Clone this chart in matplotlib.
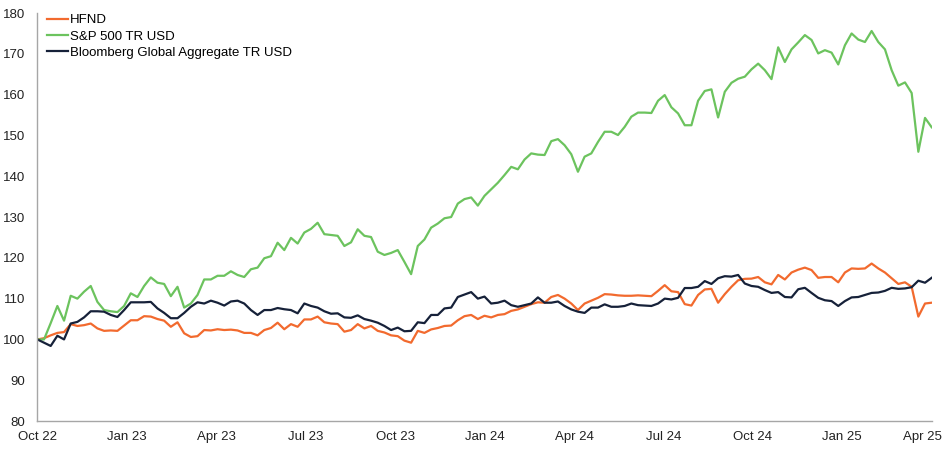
import numpy as np
import matplotlib
matplotlib.use("Agg")
import matplotlib.pyplot as plt
import matplotlib.transforms as mtrans

## Data (weekly, rebased to 100)
tick_labels = ['Oct 22', 'Jan 23', 'Apr 23', 'Jul 23', 'Oct 23', 'Jan 24',
               'Apr 24', 'Jul 24', 'Oct 24', 'Jan 25', 'Apr 25']

hfnd = [100, 100.3, 101.0, 101.6, 101.8, 103.75, 103.3, 103.5, 103.9, 102.7, 102.1, 102.2, 102.1, 103.4,
        104.7, 104.7, 105.7, 105.6, 105.0, 104.6, 103.1, 104.2, 101.5,
        100.6, 100.8, 102.3, 102.2, 102.5, 102.3, 102.4, 102.2, 101.6, 101.6, 101.0, 102.3, 102.8, 104.1,
        102.5, 103.75, 103.1, 104.9, 104.9, 105.6, 104.2, 103.9,
        103.75, 101.9, 102.3, 103.75, 102.7, 103.3, 102.1, 101.7, 101.0, 100.8, 99.7, 99.2, 102.1, 101.6,
        102.45, 102.8, 103.3, 103.4, 104.7, 105.7, 106.0, 105.0, 105.8,
        105.4, 106.0, 106.2, 107.0, 107.35, 108.0, 108.65, 109.1, 109.0, 110.4, 110.9, 110.0, 108.8, 107.2,
        108.8, 109.5, 110.2, 111.1, 111.0, 110.8, 110.7, 110.7, 110.8, 110.7,
        110.6, 111.9, 113.3, 111.8, 111.6, 108.65, 108.3, 110.9, 112.25, 112.4, 109.0, 111.1, 112.9, 114.5,
        114.85, 114.9, 115.3, 114.0, 113.5, 115.8, 114.7, 116.4, 117.1,
        117.6, 117.0, 115.1, 115.3, 115.3, 114.0, 116.4, 117.4, 117.3, 117.4, 118.6, 117.4, 116.4, 115.0,
        113.6, 114.0, 112.9, 105.6, 108.8, 109.0]

sp500 = [100, 100.0, 104.0, 108.2, 104.6, 110.7, 110.0, 111.7, 113.1, 109.2, 107.2, 106.9, 106.7, 108.2,
         111.3, 110.4, 113.1, 115.2, 113.9, 113.6, 110.6, 112.9, 107.8,
         108.8, 110.9, 114.7, 114.7, 115.6, 115.6, 116.7, 115.8, 115.3, 117.2, 117.6, 119.9, 120.4, 123.7,
         121.9, 124.9, 123.5, 126.2, 127.1, 128.6, 125.8, 125.6,
         125.4, 122.9, 123.8, 127.0, 125.4, 125.1, 121.5, 120.7, 121.2, 121.9, 119.0, 116.0, 122.9, 124.5,
         127.4, 128.4, 129.7, 130.0, 133.3, 134.4, 134.8, 132.8, 135.2,
         136.8, 138.4, 140.3, 142.3, 141.7, 144.1, 145.6, 145.3, 145.2, 148.6, 149.1, 147.6, 145.4, 141.1,
         144.8, 145.6, 148.4, 150.9, 150.9, 150.1, 152.1, 154.6, 155.6, 155.6,
         155.5, 158.5, 159.9, 156.9, 155.4, 152.5, 152.5, 158.5, 160.9, 161.3, 154.4, 160.7, 162.9, 163.9,
         164.4, 166.2, 167.6, 166.0, 163.8, 171.6, 168.0, 171.1, 172.8,
         174.6, 173.4, 170.1, 170.9, 170.3, 167.4, 172.1, 175.0, 173.5, 172.9, 175.6, 172.9, 171.1, 166.0,
         162.2, 163.0, 160.4, 146.0, 154.3, 152.0]

bbg_agg = [100, 99.2, 98.4, 100.9, 100.0, 103.9, 104.3, 105.4, 106.9, 106.9, 106.8, 106.0, 105.5, 107.2,
           109.1, 109.1, 109.1, 109.2, 107.6, 106.5, 105.2, 105.2, 106.5,
           108.0, 109.1, 108.8, 109.5, 109.0, 108.3, 109.3, 109.5, 108.8, 107.2, 106.0, 107.2, 107.2, 107.7,
           107.4, 107.2, 106.4, 108.8, 108.2, 107.8, 106.9, 106.3,
           106.4, 105.4, 105.3, 105.9, 105.0, 104.6, 104.1, 103.3, 102.3, 102.9, 102.0, 102.1, 104.2, 104.0,
           106.0, 106.0, 107.6, 107.8, 110.4, 111.0, 111.6, 110.0, 110.5,
           108.8, 109.0, 109.5, 108.4, 108.0, 108.4, 108.8, 110.3, 109.0, 109.0, 109.3, 108.2, 107.35, 106.8,
           106.5, 107.8, 107.8, 108.6, 108.0, 108.0, 108.2, 108.8, 108.4, 108.3,
           108.2, 108.8, 110.0, 109.8, 110.2, 112.6, 112.6, 112.9, 114.3, 113.6, 115.0, 115.5, 115.4, 115.8,
           113.7, 113.1, 112.9, 112.1, 111.4, 111.6, 110.4, 110.3, 112.3,
           112.65, 111.4, 110.2, 109.6, 109.4, 108.2, 109.4, 110.3, 110.4, 110.9, 111.4, 111.5, 111.9, 112.65,
           112.4, 112.5, 112.8, 114.4, 113.9, 115.1]

x = np.arange(len(hfnd))

## Plot
plt.rcParams['font.family'] = ['Liberation Sans', 'DejaVu Sans']
fig = plt.figure(figsize=(9.43, 4.5), dpi=100)
ax = fig.add_axes([0.0396, 0.0644, 0.9484, 0.9066])

ax.plot(x, hfnd, color='#F26A2E', lw=1.6, label='HFND')
ax.plot(x, sp500, color='#6CC35E', lw=1.6, label='S&P 500 TR USD')
ax.plot(x, bbg_agg, color='#162139', lw=1.6, label='Bloomberg Global Aggregate TR USD')

ax.set_xlim(0, len(x) - 1)
ax.set_ylim(80, 180)
ax.set_yticks(np.arange(80, 181, 10))
ax.set_xticks(np.linspace(0, len(x) - 1, len(tick_labels)))
ax.set_xticklabels(tick_labels)

for s in ['top', 'right']:
    ax.spines[s].set_visible(False)
for s in ['left', 'bottom']:
    ax.spines[s].set_color('#A6A6A6')
    ax.spines[s].set_linewidth(1.0)
ax.tick_params(axis='both', length=0, labelsize=9.5, colors='#222222')
ax.tick_params(axis='y', pad=9)
ax.tick_params(axis='x', pad=7)

# last label sits a bit left so it fits inside the figure
last = ax.get_xticklabels()[-1]
last.set_transform(last.get_transform() + mtrans.ScaledTranslation(-7 / 72, 0, fig.dpi_scale_trans))

ax.legend(loc='upper left', bbox_to_anchor=(0.0, 1.02), frameon=False, fontsize=9.5,
          handlelength=1.6, handletextpad=0.2, labelspacing=0.3, borderaxespad=0.3)

fig.savefig('out.png', dpi=100)
